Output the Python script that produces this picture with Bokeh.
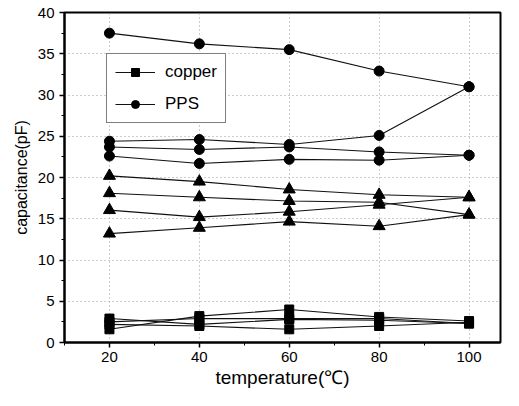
from bokeh.plotting import figure
from bokeh.models import Legend, LegendItem, FixedTicker, Range1d
from bokeh.embed import file_html
from bokeh.resources import INLINE

temperature = [20, 40, 60, 80, 100]

pps_1 = [37.5, 36.2, 35.5, 32.9, 31.0]
pps_2 = [24.4, 24.6, 24.0, 25.1, 31.0]
pps_3 = [23.7, 23.4, 23.7, 23.1, 22.7]
pps_4 = [22.6, 21.7, 22.2, 22.1, 22.7]

tri_1 = [20.2, 19.5, 18.55, 17.9, 17.6]
tri_2 = [18.1, 17.6, 17.15, 17.0, 15.5]
tri_3 = [16.05, 15.2, 15.85, 16.7, 17.6]
tri_4 = [13.2, 13.9, 14.65, 14.1, 15.5]

copper_1 = [2.9, 2.2, 2.8, 2.7, 2.3]
copper_2 = [1.6, 3.2, 4.0, 3.1, 2.6]
copper_3 = [2.5, 2.9, 2.9, 2.9, 2.3]
copper_4 = [2.2, 2.0, 1.6, 2.0, 2.45]

x_ticks = [20, 40, 60, 80, 100]
x_minor = [10, 30, 50, 70, 90]
y_ticks = [0, 5, 10, 15, 20, 25, 30, 35, 40]
y_minor = [2.5, 7.5, 12.5, 17.5, 22.5, 27.5, 32.5, 37.5]

x_title = "temperature(℃)"
y_title = "capacitance(pF)"

FONT = "Liberation Sans"

p = figure(width=503, height=390, output_backend="svg", toolbar_location=None,
           x_range=Range1d(10, 107), y_range=Range1d(0, 40))
p.min_border_left = 64
p.min_border_right = 3
p.min_border_top = 12
p.min_border_bottom = 41
p.background_fill_color = "white"
p.border_fill_color = "white"
p.outline_line_color = "black"
p.outline_line_width = 2

p.xaxis.ticker = FixedTicker(ticks=x_ticks, minor_ticks=x_minor)
p.yaxis.ticker = FixedTicker(ticks=y_ticks, minor_ticks=y_minor)
for ax in (p.xaxis, p.yaxis):
    ax.axis_line_width = 2
    ax.axis_line_color = "black"
    ax.major_tick_line_color = "black"
    ax.minor_tick_line_color = "black"
    ax.major_tick_line_width = 1.5
    ax.major_tick_out = 5
    ax.major_tick_in = 0
    ax.minor_tick_out = 3
    ax.minor_tick_in = 0
    ax.major_label_text_font = FONT
    ax.major_label_text_font_size = "15px"
    ax.major_label_text_color = "black"
    ax.axis_label_text_font = FONT
    ax.axis_label_text_font_style = "normal"
    ax.axis_label_text_color = "black"

p.xaxis.axis_label = x_title
p.yaxis.axis_label = y_title
p.xaxis.axis_label_text_font_size = "19px"
p.yaxis.axis_label_text_font_size = "16px"
p.xaxis.major_label_standoff = 4
p.xaxis.axis_label_standoff = 2
p.yaxis.major_label_standoff = 5
p.yaxis.axis_label_standoff = 5

p.xgrid.grid_line_color = "#9a9a9a"
p.ygrid.grid_line_color = "#9a9a9a"
p.xgrid.grid_line_dash = "1 3"
p.ygrid.grid_line_dash = "1 3"
p.xgrid.grid_line_width = 1
p.ygrid.grid_line_width = 1

LC = "#111111"

def series(vals, marker, size):
    l = p.line(temperature, vals, line_color=LC, line_width=1.1)
    s = p.scatter(temperature, vals, marker=marker, size=size,
                  fill_color="black", line_color="black")
    return [l, s]

copper_r = series(copper_1, "square", 9)
series(copper_2, "square", 9)
series(copper_3, "square", 9)
series(copper_4, "square", 9)

pps_r = series(pps_1, "circle", 10)
series(pps_2, "circle", 10)
series(pps_3, "circle", 10)
series(pps_4, "circle", 10)

for t in (tri_1, tri_2, tri_3, tri_4):
    series(t, "triangle", 12)

legend = Legend(items=[LegendItem(label="copper", renderers=copper_r),
                       LegendItem(label="PPS", renderers=pps_r)],
                location=(42, 219))
legend.label_text_font = FONT
legend.label_text_font_size = "17px"
legend.label_text_color = "black"
legend.border_line_color = "black"
legend.border_line_width = 1.2
legend.background_fill_color = "white"
legend.background_fill_alpha = 1
legend.glyph_width = 40
legend.glyph_height = 20
legend.spacing = 12
legend.padding = 8
legend.margin = 0
legend.label_standoff = 10
p.add_layout(legend, "center")

open("out.html", "w").write(file_html(p, INLINE))
